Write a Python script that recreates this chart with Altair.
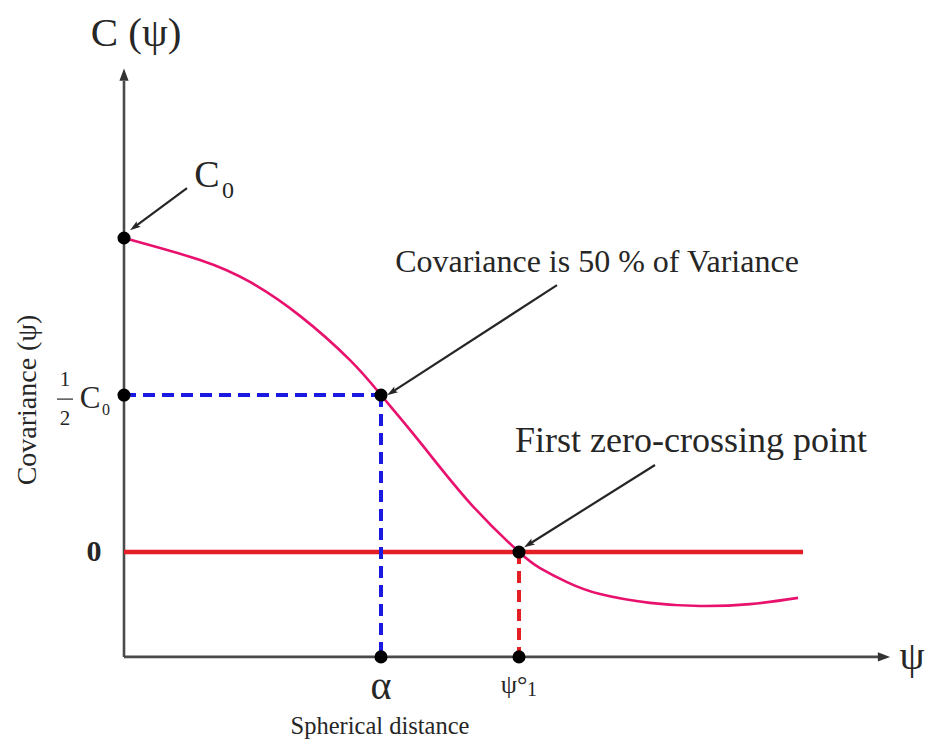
import math
import altair as alt
import pandas as pd

# Covariance function C(psi) against spherical distance (arbitrary units)
dist = [0.0, 0.76, 1.26, 1.76, 2.26, 2.57, 2.96, 3.46, 3.95, 4.16, 4.43, 4.76, 5.26, 5.76, 6.26, 6.74]
cov = [1.0, 0.930, 0.860, 0.752, 0.611, 0.50, 0.350, 0.156, 0.0, -0.051, -0.096, -0.134,
       -0.162, -0.172, -0.166, -0.146]

C0 = 1.0
HALF_C0 = 0.5
ALPHA = 2.57        # distance where covariance is half the variance
PSI1 = 3.95         # first zero crossing
ZERO_END = 6.79     # extent of the zero reference line
AXIS_Y = -0.334     # level of the horizontal axis
AXIS_X_END = 7.55
AXIS_Y_END = 1.50

W, H = 938, 745
X_DOM = [-1.24, 8.14]
Y_DOM = [-0.6146, 1.758]
PX_X = W / (X_DOM[1] - X_DOM[0])
PX_Y = H / (Y_DOM[1] - Y_DOM[0])

FONT = "Liberation Serif"
INK = "#262626"
AXIS_COL = "#4a4a4a"

xs = alt.Scale(domain=X_DOM, nice=False, zero=False)
ys = alt.Scale(domain=Y_DOM, nice=False, zero=False)


def X(f="x"):
    return alt.X(f"{f}:Q", scale=xs, axis=None)


def Y(f="y"):
    return alt.Y(f"{f}:Q", scale=ys, axis=None)


def seg(rows, color, width, dash=None):
    df = pd.DataFrame(rows, columns=["x", "y", "x2", "y2"])
    kw = dict(color=color, strokeWidth=width)
    if dash:
        kw["strokeDash"] = dash
    return alt.Chart(df).mark_rule(**kw).encode(
        x=X(), y=Y(), x2="x2:Q", y2="y2:Q"
    )


def label(x, y, text, size, **kw):
    df = pd.DataFrame({"x": [x], "y": [y], "t": [text]})
    opts = dict(font=FONT, fontSize=size, color=INK, baseline="middle", align="center")
    opts.update(kw)
    return alt.Chart(df).mark_text(**opts).encode(x=X(), y=Y(), text="t:N")


def arrow(x1, y1, x2, y2, head=130, back=7):
    """Straight annotation arrow from (x1, y1) to the tip (x2, y2)."""
    dxp = (x2 - x1) * PX_X
    dyp = -(y2 - y1) * PX_Y
    length = math.hypot(dxp, dyp)
    ux, uy = dxp / length, dyp / length
    hx = x2 - ux * back / PX_X
    hy = y2 + uy * back / PX_Y
    ang = math.degrees(math.atan2(dxp, -dyp)) % 360
    shaft = seg([[x1, y1, hx, hy]], INK, 2.2)
    tip = alt.Chart(pd.DataFrame({"x": [hx], "y": [hy]})).mark_point(
        shape="M0,-1L0.6,0.9L0,0.5L-0.6,0.9Z",
        filled=True, color=INK, opacity=1, size=head, angle=ang, strokeWidth=0,
    ).encode(x=X(), y=Y())
    return shaft + tip


# axes with arrow heads
axes = seg([[0, AXIS_Y, AXIS_X_END, AXIS_Y], [0, AXIS_Y, 0, AXIS_Y_END]], AXIS_COL, 2.6)
ax_heads = alt.Chart(pd.DataFrame({"x": [AXIS_X_END + 0.05, 0],
                                   "y": [AXIS_Y, AXIS_Y_END + 0.02],
                                   "a": [90, 0]})).mark_point(
    shape="M0,-1L0.75,1L-0.75,1Z", filled=True, color="#333333", opacity=1, size=150, strokeWidth=0,
).encode(x=X(), y=Y(), angle=alt.Angle("a:Q", scale=None))

zero_line = seg([[0, 0, ZERO_END, 0]], "#e31e24", 4.5)

blue_guides = seg([[0, HALF_C0, ALPHA, HALF_C0], [ALPHA, HALF_C0, ALPHA, AXIS_Y]],
                  "#1a1ae0", 4, dash=[12, 7])
red_guide = seg([[PSI1, 0, PSI1, AXIS_Y]], "#e31e24", 4, dash=[12, 7])

curve = alt.Chart(pd.DataFrame({"x": dist, "y": cov})).mark_line(
    color="#e8126e", strokeWidth=2.6, interpolate="natural"
).encode(x=X(), y=Y())

dots = alt.Chart(pd.DataFrame({
    "x": [0, 0, ALPHA, PSI1, ALPHA, PSI1],
    "y": [C0, HALF_C0, HALF_C0, 0, AXIS_Y, AXIS_Y],
})).mark_circle(color="black", opacity=1, size=170).encode(x=X(), y=Y())

texts = [
    label(0.12, 1.650, "C (ψ)", 41),
    label(0.83, 1.197, "C", 38),
    label(1.04, 1.150, "0", 24),
    label(-0.96, 0.484, "Covariance (ψ)", 28, angle=270),
    label(-0.59, 0.548, "1", 21),
    label(-0.59, 0.424, "2", 21),
    label(-0.34, 0.487, "C", 31),
    label(-0.18, 0.452, "0", 16),
    label(-0.30, 0.0, "0", 30, fontWeight="bold"),
    label(ALPHA, -0.430, "α", 40),
    label(PSI1 - 0.05, -0.425, "ψ°", 26),
    label(PSI1 + 0.13, -0.440, "1", 20),
    label(2.56, -0.557, "Spherical distance", 24.5),
    label(7.88, -0.334, "ψ", 40),
    label(4.73, 0.924, "Covariance is 50 % of Variance", 32),
    label(5.67, 0.354, "First zero-crossing point", 36),
]
frac_bar = seg([[-0.67, 0.487, -0.51, 0.487]], INK, 1.2)

arrows = (
    arrow(0.63, 1.159, 0.05, 1.022)
    + arrow(4.33, 0.850, 2.62, 0.497)
    + arrow(5.31, 0.277, 3.99, 0.013)
)

chart = alt.layer(
    axes, ax_heads, zero_line, blue_guides, red_guide, curve, arrows, dots, frac_bar, *texts
).properties(
    width=W, height=H, padding=0, autosize=alt.AutoSizeParams(type="none"), background="white"
).configure_view(stroke=None)

chart.save("out.html", embed_options={"renderer": "svg", "actions": False})
